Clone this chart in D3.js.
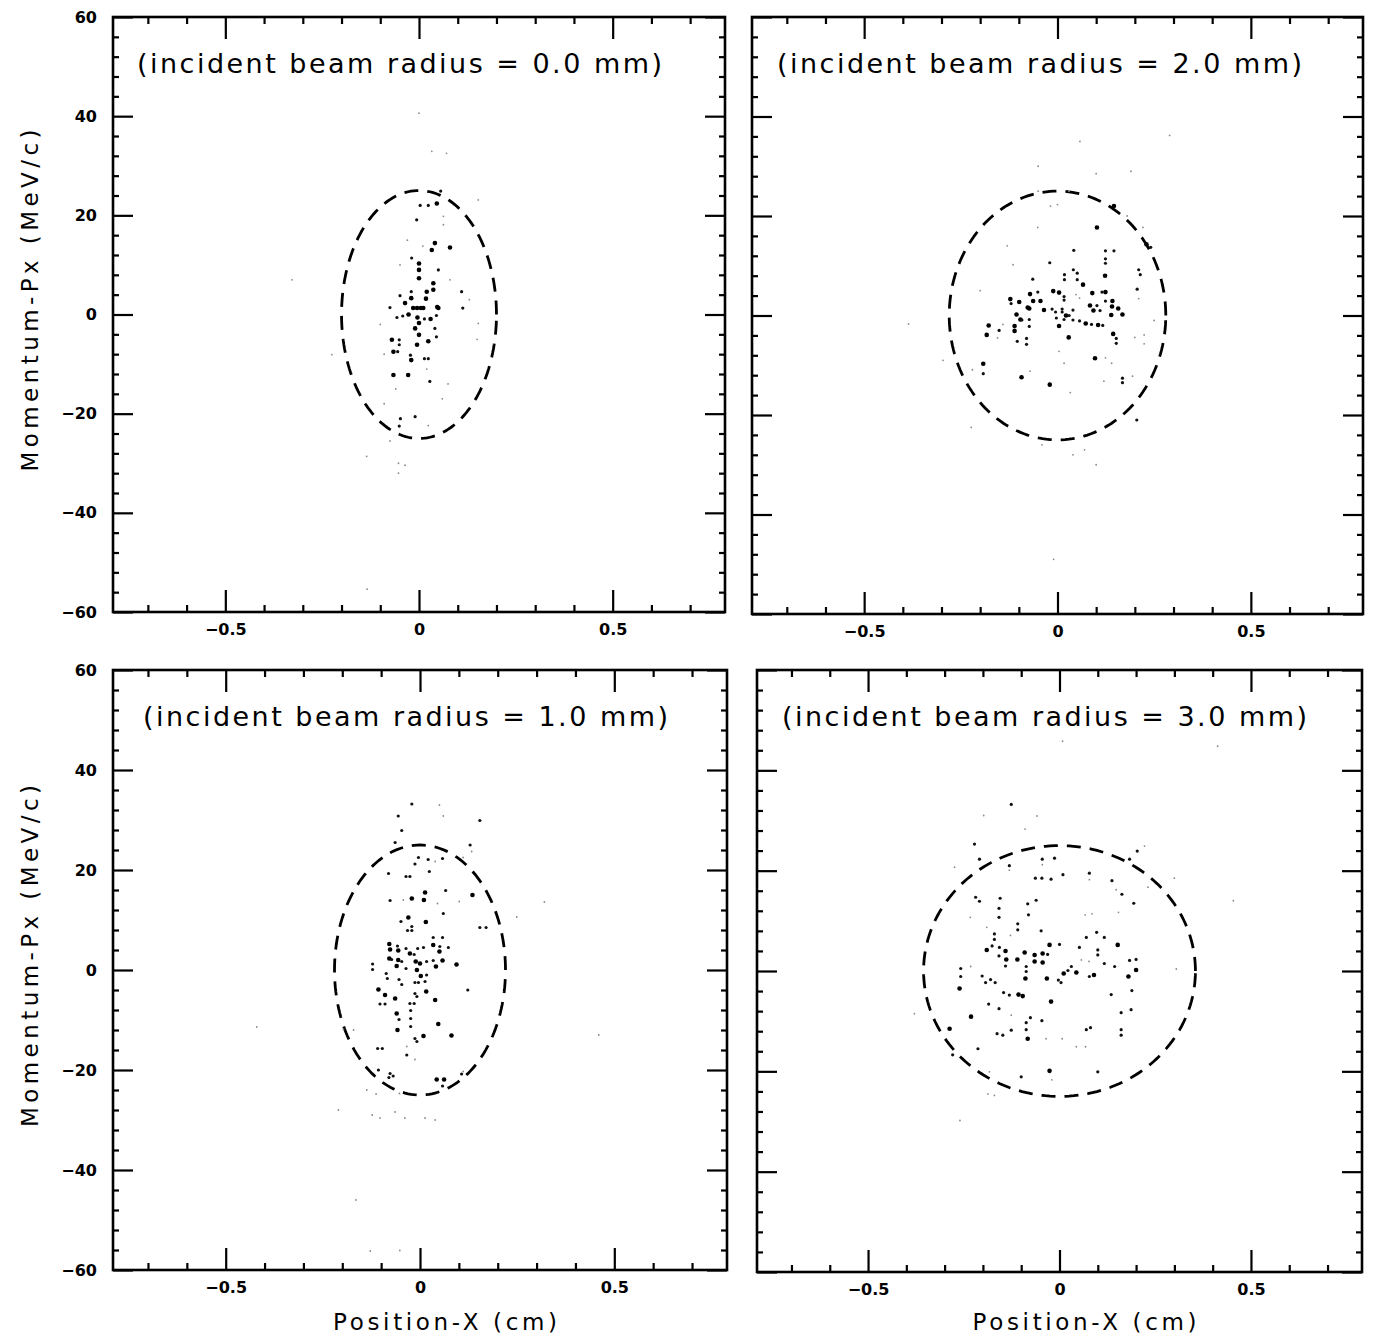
<!DOCTYPE html>
<html>
<head>
<meta charset="utf-8">
<script src="https://cdn.jsdelivr.net/npm/d3@7"></script>
<style>
  body { margin: 0; background: #fff; }
  .tick text { font-family: "DejaVu Sans", sans-serif; font-weight: bold; font-size: 16px; fill: #000; }
  .tick line { stroke: #000; stroke-width: 2.2; }
</style>
</head>
<body>
<div class="chart"></div>
<script>
// DATA ------------------------------------
const beamRadii = ["0.0", "2.0", "1.0", "3.0"];
// acceptance ellipse semi-axes (cm, MeV/c)
const ellipseA = [0.2, 0.28, 0.22, 0.355];
const ellipseB = [25, 25, 25, 25];

const xMajor = [-0.5, 0, 0.5];
const xMinor = [-0.7, -0.6, -0.4, -0.3, -0.2, -0.1, 0.1, 0.2, 0.3, 0.4, 0.6, 0.7];
const yMajor = [-60, -40, -20, 0, 20, 40, 60];
const yMinor = [-56, -52, -48, -44, -36, -32, -28, -24, -16, -12, -8, -4,
                4, 8, 12, 16, 24, 28, 32, 36, 44, 48, 52, 56];

// [x (cm), Px (MeV/c), dot weight 1..3]
const pointsR00 = [
  [0.056,24.9,2],[0.003,22,2],[0.024,22,2],[0.046,22.4,3],[0.153,23.1,1],[-0.006,19.1,2],
  [0.063,19.8,1],[0.063,18.1,1],[0.041,14.4,3],[0.033,13,3],[0.08,13.5,3],[0.01,13.8,1],
  [-0.019,11.4,2],[0,10.3,3],[0,9,3],[0,7.3,3],[-0.049,10,1],[0.05,9,2],[0.037,6.3,3],
  [0.11,4.6,2],[0.113,1.3,2],[-0.02,4.6,2],[-0.02,3.3,3],[-0.049,3.8,2],[-0.036,2.3,3],
  [-0.075,1.4,2],[-0.015,1.3,3],[-0.005,1.3,3],[0.005,1.3,3],[0.011,1.3,3],[0.018,3.2,3],
  [0.02,4.6,3],[0.037,5,3],[0.05,1.3,3],[0.047,1.5,3],[-0.057,-0.6,2],[-0.042,-0.3,2],
  [-0.027,0,3],[-0.004,-0.6,3],[0,-1.7,3],[0.014,-0.9,2],[0.03,-0.9,3],[0.045,-0.2,2],
  [-0.01,-2.8,3],[0,-4.1,3],[0.041,-2.8,2],[0.045,-4.5,2],[0.153,-1.8,1],[-0.07,-5.1,3],
  [-0.051,-5.1,2],[-0.051,-6.1,2],[-0.066,-7.5,3],[-0.055,-7.5,2],[-0.005,-6.1,3],
  [0.024,-5.4,3],[-0.022,-8.2,2],[-0.02,-9.2,3],[0.014,-8.9,2],[0.024,-8.9,2],
  [-0.066,-12.2,3],[-0.028,-12.2,3],[0.028,-13.5,2],[-0.06,-15,1],[-0.01,-20.6,2],
  [-0.048,-21,2],[-0.051,-22.5,2],[0.024,-22.4,1],[-0.075,-25.5,1],[-0.053,-30,1],
  [-0.036,-30.4,1],[-0.053,-32,1],[0,40.6,1],[0.071,32.5,1],[0.033,32.9,1],[-0.328,7,1],
  [-0.225,-8.1,1],[-0.135,-28.6,1],[-0.134,-55.4,1],[0.15,-5,1],[0.075,-14,1],[-0.09,-8,1],
  [0.08,7,1],[-0.03,15,1],[0.13,3,1],[-0.1,-2,1],[0.02,-11,1],[0.06,-17,1],[-0.09,-18,1]
];
const pointsR20 = [
  [0.146,22,3],[0.102,17.7,3],[-0.018,22,1],[0.0,22.3,1],[0.221,17.7,1],[-0.051,17.7,1],
  [0.23,14.3,3],[0.241,13.7,2],[0.042,13.1,2],[0.124,13,2],[0.146,13,2],[0.124,11.4,2],
  [0.124,10.5,2],[-0.02,10.6,2],[-0.115,10.2,1],[0.018,8.2,2],[0.018,7.2,2],[0.041,9.2,2],
  [0.051,8.5,2],[0.051,7.2,2],[-0.064,7.3,2],[0.123,8.0,3],[0.21,9.2,2],[0.214,8.2,2],
  [0.066,6.2,3],[0.09,4.5,3],[0.115,4.7,2],[0.124,4.7,3],[0.142,2.9,3],[0.124,2.9,2],
  [0.206,5.3,2],[0.21,3.4,1],[-0.011,4.9,3],[0.004,4.6,3],[0.017,3.8,2],[0.017,3.1,2],
  [0.048,4.2,1],[0.057,3.5,1],[-0.071,4.3,3],[-0.051,4.7,2],[-0.122,3.3,3],[-0.099,2.7,3],
  [-0.063,2.9,3],[-0.044,2.9,3],[-0.12,2.4,2],[-0.077,1.6,3],[-0.073,1.4,3],[-0.035,1.1,3],
  [-0.014,1.3,2],[-0.005,0.7,2],[0.012,1.3,2],[0.012,0.7,2],[0.022,0,3],[0.04,1.1,2],
  [0.03,0,2],[0.084,2,3],[0.102,2,2],[0.093,1,3],[0.11,1,2],[0.141,1.8,3],[0.157,1.4,3],
  [0.139,0.1,3],[0.168,0.2,3],[-0.106,0.2,3],[-0.096,-0.8,3],[-0.092,-0.9,2],[-0.073,-0.8,2],
  [-0.073,-2.2,2],[-0.003,-0.5,2],[0.004,-2.1,3],[0.017,-0.8,2],[0.04,-0.9,2],[0.057,-1.1,2],
  [0.073,-1.6,3],[0.088,-1.8,2],[0.105,-1.9,3],[0.117,-2,2],[-0.178,-2,3],[-0.183,-3.9,3],
  [-0.151,-3,2],[-0.111,-2.1,3],[-0.111,-3.1,3],[-0.141,-1.8,1],[-0.155,-4.5,1],
  [-0.104,-5.2,2],[-0.08,-4.6,2],[-0.08,-5.8,2],[0.029,-4.4,3],[0.144,-3.7,3],[0.152,-4.6,2],
  [0.152,-5.6,2],[0.2,-4.4,1],[0.224,-3.9,1],[0.224,-5.7,1],[0.004,-7.2,1],[0.097,-8.6,3],
  [0.124,-8.5,1],[0.14,-9.6,1],[0.017,-9.6,1],[-0.192,-9.7,3],[-0.192,-11.7,2],[-0.22,-10.9,1],
  [-0.093,-12.4,3],[-0.071,-11.2,1],[-0.02,-13.9,3],[0.033,-15.5,1],[0.168,-12.6,2],
  [0.168,-13.5,2],[0.12,-13.2,1],[0.194,-12.2,1],[0.205,-21,2],[-0.223,-22.5,1],
  [-0.385,-1.7,1],[-0.296,-9,1],[0.058,35,1],[0.29,36.2,1],[-0.05,25,1],[0.03,25,1],
  [-0.05,30,1],[0.1,28.5,1],[0.19,29,1],[-0.04,-26,1],[0.04,-28,1],[0.1,-30,1],[-0.01,-49,1],
  [0.07,-27,1],[-0.13,14,1],[0.18,20,1],[-0.2,5,1],[0.25,-1,1]
];
const pointsR10 = [
  [-0.021,33.2,2],[-0.056,30.8,2],[-0.047,27.9,2],[0.154,29.9,2],[0.05,33,1],[0.06,30.8,1],
  [-0.064,25.5,2],[0.129,25,2],[0.133,23.7,1],[-0.013,21.2,2],[-0.004,22.5,2],[0.021,22.1,2],
  [0.039,21.7,1],[0.058,22.3,2],[0.111,22.5,1],[-0.081,19.3,2],[-0.036,18.7,2],[-0.026,18.7,2],
  [0.024,19.7,2],[0.066,15.9,2],[0.013,15.5,3],[-0.077,13.9,2],[-0.043,14,1],[-0.021,14.3,3],
  [0.01,14,3],[0.045,13.3,1],[0.101,13.7,1],[0.135,15,3],[0.154,8.5,2],[0.17,8.5,2],
  [0.06,11.3,2],[-0.03,10.5,3],[-0.049,9.7,2],[-0.021,8.7,2],[0.015,9.6,3],[-0.032,7.9,2],
  [-0.021,7.9,2],[0.034,6.5,2],[0.058,6.5,2],[-0.079,5.2,3],[-0.077,4.1,3],[-0.058,4.8,2],
  [-0.036,4.3,2],[-0.056,3.9,3],[-0.026,3.3,3],[-0.015,3.1,2],[-0.006,4.3,2],[0.009,4.5,2],
  [0.034,5,3],[0.051,4.7,2],[0.073,4.5,2],[0.05,3.7,3],[0.058,1.9,3],[-0.079,2.3,3],
  [-0.073,2.1,2],[-0.056,2,3],[-0.047,1.7,2],[-0.011,1.7,3],[0,1.3,3],[0.017,1.7,2],
  [0.034,1.9,2],[0.041,0.7,3],[0.094,1.1,3],[-0.122,1.2,2],[-0.122,0.1,2],[-0.06,0.8,3],
  [-0.036,0.3,2],[-0.008,0,3],[0.002,-1.2,3],[0.017,-1,2],[-0.087,-0.7,2],[-0.084,-1.7,2],
  [-0.054,-1.9,2],[-0.047,-2.9,2],[-0.013,-2.5,2],[-0.004,-2.5,2],[0.013,-2.3,2],
  [0.016,-4.3,3],[-0.107,-3.9,3],[-0.09,-5,3],[-0.013,-4.7,2],[-0.008,-5.3,2],[-0.064,-5.7,3],
  [0.039,-6,3],[0.123,-4,2],[-0.103,-6.8,2],[-0.09,-6.8,2],[-0.026,-6.7,2],[-0.015,-6.7,2],
  [-0.06,-8.7,3],[-0.054,-9.9,2],[-0.058,-12,3],[-0.024,-8.1,2],[-0.024,-9.7,2],
  [-0.024,-11.3,2],[0.047,-10.8,3],[0.081,-13.1,3],[-0.013,-13.7,2],[-0.008,-14.3,2],
  [0.009,-13.2,3],[-0.109,-15.7,2],[-0.097,-15.7,2],[-0.034,-15.3,1],[-0.034,-17,2],
  [-0.013,-17.9,1],[-0.197,-11.9,1],[-0.171,-12,1],[-0.107,-20,2],[-0.077,-20.7,2],
  [-0.069,-21.2,2],[-0.08,-21.5,2],[0.043,-21.9,3],[0.062,-21.9,3],[0.058,-23.2,2],
  [0.107,-20.8,2],[0.111,-20.3,1],[-0.137,-24,1],[-0.113,-24.8,1],[-0.053,-24.7,1],
  [0.32,13.6,1],[0.249,10.6,1],[-0.123,-29,1],[-0.103,-29.6,1],[-0.064,-28.4,1],
  [-0.039,-29.6,1],[0.013,-29.6,1],[0.039,-30,1],[-0.128,-56.2,1],[-0.052,-56.1,1],
  [0.46,-13,1],[-0.42,-11.4,1],[-0.21,-28,1],[-0.165,-46,1]
];
const pointsR30 = [
  [-0.126,33.2,2],[-0.222,25.3,2],[-0.198,31,1],[-0.059,30.9,1],[-0.09,28.3,1],[-0.209,22.3,2],
  [-0.131,21,2],[-0.131,20.1,1],[-0.274,20.7,1],[-0.045,22.3,2],[-0.045,21.2,1],[-0.013,22.5,2],
  [0.183,22.3,2],[0.203,23.9,2],[0.222,24.9,1],[0.009,19.2,2],[-0.063,18.5,2],[-0.046,18.5,2],
  [-0.022,18.3,2],[0.078,19.5,2],[0.078,18.2,1],[0.137,18,2],[0.163,15.3,2],[0.148,16.2,1],
  [0.231,16.7,1],[0.3,18.5,1],[-0.219,14.7,2],[-0.209,13.9,2],[-0.155,14.5,2],[-0.083,13.4,2],
  [-0.061,14.1,2],[0.194,13.5,2],[-0.158,12.5,2],[-0.158,10.7,2],[-0.081,11.2,2],
  [-0.233,10.7,1],[0.067,11.2,1],[0.085,11.4,1],[0.154,11.7,1],[-0.109,9.4,2],[-0.109,8.2,2],
  [-0.19,8.7,1],[-0.048,8,2],[0.097,7.7,2],[0.117,6.7,2],[-0.17,7.4,2],[-0.17,6.3,2],
  [-0.128,7.1,1],[0.07,6.7,2],[-0.026,5.2,3],[0,5.3,2],[0.052,4.7,2],[0.152,5.2,3],
  [-0.19,4.2,3],[-0.176,5,2],[-0.157,4.7,2],[-0.141,4,3],[-0.139,2.3,3],[-0.158,3,2],
  [-0.091,3.7,3],[-0.11,2.3,3],[-0.065,3.2,3],[-0.044,3.5,3],[-0.031,3.3,2],[-0.065,1.9,3],
  [-0.044,1.7,3],[-0.087,0.9,2],[-0.087,-0.1,2],[-0.141,1,2],[0.1,4.2,2],[0.1,3.2,2],
  [0.057,2.2,1],[0.077,1.9,1],[0.031,0.9,2],[0.022,0.1,2],[0.011,-0.5,3],[0.044,-0.3,3],
  [0.078,-1.1,2],[0.09,-0.8,3],[0.117,1.5,2],[0.144,0.9,2],[0.183,2.1,2],[0.2,2.3,2],
  [0.2,0.2,3],[0.18,-1.1,3],[-0.258,0.5,2],[-0.258,-1.1,2],[-0.232,0.9,1],[-0.202,-1,2],
  [-0.193,-2.3,2],[-0.18,-1.7,2],[-0.168,-2.3,2],[-0.089,-1.5,3],[-0.033,-1.5,3],
  [-0.003,-1.8,2],[0.004,-2.3,2],[-0.261,-3.5,3],[-0.146,-4.3,2],[-0.131,-4.8,2],
  [-0.107,-4.7,3],[-0.096,-5,3],[-0.022,-6.1,3],[0.135,-4.7,2],[0.189,-3.9,2],[-0.185,-6.6,2],
  [-0.158,-7.5,2],[-0.231,-9.1,3],[-0.126,-8.8,1],[-0.076,-9.3,2],[-0.046,-9.9,2],
  [0.161,-8.3,2],[0.187,-7.7,2],[-0.287,-11.5,3],[-0.163,-12.5,2],[-0.148,-12.8,2],
  [-0.126,-11.8,2],[-0.087,-10.3,2],[-0.087,-11.7,2],[-0.083,-13.5,3],[-0.035,-13.5,1],
  [0.161,-11.7,2],[0.161,-12.8,2],[0.081,-11.3,2],[0.07,-11.7,2],[0.007,-13.5,1],
  [-0.213,-15.5,2],[-0.279,-16.7,2],[0.044,-15.1,1],[0.068,-15.1,1],[0.1,-20.1,2],
  [-0.026,-19.9,3],[-0.1,-21.1,2],[-0.02,-21.7,1],[-0.183,-20.1,1],[-0.187,-24.5,1],
  [-0.17,-24.8,1],[0.008,45.8,1],[0.413,44.8,1],[0.454,14,1],[0.305,0.4,1],[-0.379,-8.5,1],
  [-0.26,-29.8,1]
];
const panelPoints = [pointsR00, pointsR20, pointsR10, pointsR30];

// LAYOUT ----------------------------------
const panels = [
  {l: 113, t: 17,  w: 612, h: 595, yLabels: true,  xTitle: false, titleDx: 24},
  {l: 752, t: 17,  w: 611, h: 597, yLabels: false, xTitle: false, titleDx: 25},
  {l: 113, t: 670, w: 614, h: 600, yLabels: true,  xTitle: true,  titleDx: 30},
  {l: 757, t: 670, w: 605, h: 602, yLabels: false, xTitle: true,  titleDx: 25}
];
const dotR = {1: 0.9, 2: 1.6, 3: 2.3};
const dotFill = {1: "#8a8a8a", 2: "#111", 3: "#000"};

const svg = d3.select(".chart")
    .append("svg")
    .attr("width", 1377)
    .attr("height", 1338);

const fmt = d => d === 0 ? "0" : d3.format(".1f")(d);

panels.forEach((p, i) => {
  const g = svg.append("g").attr("transform", `translate(${p.l},${p.t})`);
  const x = d3.scaleLinear().domain([-0.79, 0.79]).range([0, p.w]);
  const y = d3.scaleLinear().domain([-60, 60]).range([p.h, 0]);
  const noDomain = s => s.select(".domain").remove();

  // ticks on all four sides, pointing inward
  g.append("g").attr("transform", `translate(0,${p.h})`)
    .call(d3.axisBottom(x).tickValues(xMajor).tickSize(-22).tickPadding(12).tickFormat(fmt)).call(noDomain);
  g.append("g").attr("transform", `translate(0,${p.h})`)
    .call(d3.axisBottom(x).tickValues(xMinor).tickSize(-7).tickFormat("")).call(noDomain);
  g.append("g")
    .call(d3.axisTop(x).tickValues(xMajor).tickSize(-22).tickFormat("")).call(noDomain);
  g.append("g")
    .call(d3.axisTop(x).tickValues(xMinor).tickSize(-7).tickFormat("")).call(noDomain);

  g.append("g")
    .call(d3.axisLeft(y).tickValues(yMajor).tickSize(-20).tickPadding(16)
      .tickFormat(p.yLabels ? d => d3.format("d")(d) : "")).call(noDomain);
  g.append("g")
    .call(d3.axisLeft(y).tickValues(yMinor).tickSize(-6).tickFormat("")).call(noDomain);
  g.append("g").attr("transform", `translate(${p.w},0)`)
    .call(d3.axisRight(y).tickValues(yMajor).tickSize(-20).tickFormat("")).call(noDomain);
  g.append("g").attr("transform", `translate(${p.w},0)`)
    .call(d3.axisRight(y).tickValues(yMinor).tickSize(-6).tickFormat("")).call(noDomain);

  g.append("rect")
    .attr("width", p.w).attr("height", p.h)
    .attr("fill", "none").attr("stroke", "#000").attr("stroke-width", 2.6);

  // acceptance ellipse
  const a = ellipseA[i], b = ellipseB[i];
  const ell = d3.line()
    .x(t => x(a * Math.cos(t * Math.PI / 180)))
    .y(t => y(b * Math.sin(t * Math.PI / 180)));
  g.append("path")
    .attr("d", ell(d3.range(0, 361, 2)))
    .attr("fill", "none").attr("stroke", "#000")
    .attr("stroke-width", 2.8).attr("stroke-dasharray", "14,9");

  // particles
  g.selectAll("circle.pt")
    .data(panelPoints[i])
    .enter().append("circle")
    .attr("class", "pt")
    .attr("cx", d => x(d[0]))
    .attr("cy", d => y(d[1]))
    .attr("r", d => dotR[d[2]])
    .attr("fill", d => dotFill[d[2]]);

  g.append("text")
    .attr("x", p.titleDx).attr("y", 56)
    .attr("textLength", 525).attr("lengthAdjust", "spacing")
    .style("font-family", "DejaVu Sans, sans-serif").style("font-size", "27px")
    .text(`(incident beam radius = ${beamRadii[i]} mm)`);

  if (p.yLabels) {
    svg.append("text")
      .attr("transform", `translate(30,${p.t + y(0) - 14}) rotate(-90)`)
      .attr("text-anchor", "middle").attr("dy", "0.35em")
      .attr("textLength", 342).attr("lengthAdjust", "spacing")
      .style("font-family", "DejaVu Sans, sans-serif").style("font-size", "23px")
      .text("Momentum-Px (MeV/c)");
  }
  if (p.xTitle) {
    svg.append("text")
      .attr("x", p.l + p.w / 2 + 25).attr("y", 1322)
      .attr("text-anchor", "middle").attr("dy", "0.35em")
      .attr("textLength", 224).attr("lengthAdjust", "spacing")
      .style("font-family", "DejaVu Sans, sans-serif").style("font-size", "23px")
      .text("Position-X (cm)");
  }
});
</script>
</body>
</html>
